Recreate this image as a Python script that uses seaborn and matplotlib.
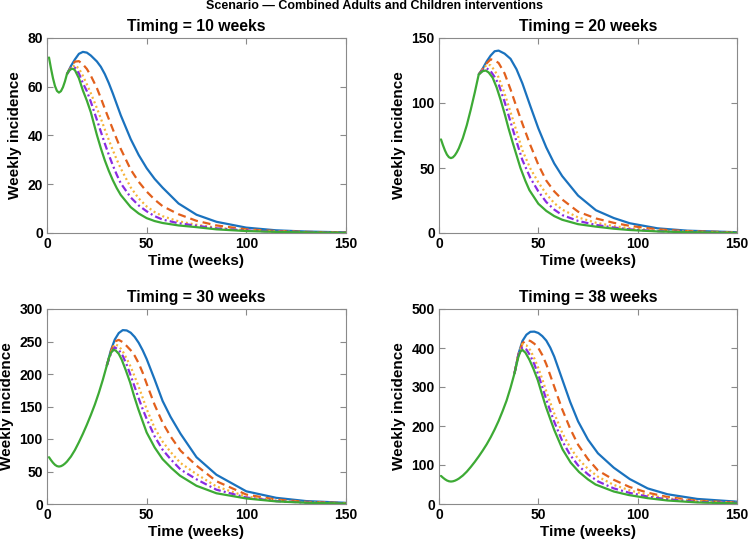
import numpy as np
import pandas as pd
import matplotlib
matplotlib.use("Agg")
import matplotlib.pyplot as plt
import seaborn as sns

# ---------------- data ----------------
# shared pre-intervention trajectory (weeks, weekly incidence)
base_weeks = [1, 2, 3, 4, 5, 6, 7, 8, 9, 10, 12, 14, 16, 18, 20, 22, 24, 26, 28, 30, 32, 34, 36, 38]
base_vals = [72, 67.5, 63.5, 60.3, 58.3, 57.6, 58.2, 59.8, 62.2, 65.2, 73, 83, 95, 108, 122,
             137, 153, 171, 191, 213, 238, 265, 298, 335]

timings = [10, 20, 30, 38]
ymaxes = [80, 150, 300, 500]
ysteps = [20, 50, 50, 100]

# ---- Timing = 10 weeks ----
t10 = [10, 12, 14, 16, 18, 20, 22, 25, 27, 29, 31, 33, 35, 37, 42, 46, 50, 54, 58, 66, 75, 85, 100, 115, 130, 150]
blue10 = [65.2, 68.5, 71.2, 73.5, 74.3, 74.0, 72.8, 70.4, 68.2, 65.2, 61.5, 57.3, 52.8, 48.3, 38.5, 32.0, 26.6, 22.2, 18.6, 12.1, 7.5, 4.6, 2.2, 1.1, 0.6, 0.25]
orange10 = [65.2, 68.0, 70.3, 70.5, 69.2, 67.3, 64.5, 59.5, 55.4, 51.0, 46.8, 42.6, 38.5, 34.5, 26.0, 21.0, 17.0, 13.7, 11.0, 7.7, 5.0, 3.1, 1.5, 0.8, 0.45, 0.2]
yellow10 = [65.2, 67.7, 68.9, 67.5, 64.5, 61.0, 57.3, 51.3, 47.0, 42.5, 38.2, 34.0, 30.1, 26.5, 18.7, 14.2, 10.9, 8.6, 6.9, 4.8, 3.4, 2.2, 1.1, 0.6, 0.35, 0.15]
purple10 = [65.2, 67.5, 67.8, 65.5, 61.5, 58.2, 53.8, 46.5, 41.6, 36.7, 32.1, 27.8, 23.9, 20.4, 14.6, 11.3, 8.9, 6.9, 5.5, 4.0, 3.0, 1.9, 1.0, 0.55, 0.3, 0.15]
tg10 = [11, 12, 13, 14, 16, 18, 20, 22, 25, 27, 29, 31, 33, 35, 37, 42, 46, 50, 54, 58, 66, 75, 85, 100, 115, 130, 150]
green10 = [66.6, 67.2, 67.4, 66.8, 63.5, 58.5, 54.3, 49.5, 40.3, 34.8, 29.8, 25.5, 21.7, 18.4, 15.6, 10.6, 8.0, 6.1, 4.9, 4.1, 3.1, 2.4, 1.5, 0.8, 0.45, 0.25, 0.12]

# ---- Timing = 20 weeks ----
t20 = [20, 22, 24, 26, 28, 30, 33, 36, 39, 42, 46, 50, 54, 58, 62, 70, 79, 88, 96, 110, 125, 150]
blue20 = [122, 126.5, 132, 136.5, 139.8, 140.3, 138, 134, 126, 115, 97.5, 80.5, 65.8, 53.5, 43.8, 28.8, 17.5, 11.5, 7.5, 3.6, 1.8, 0.6]
orange20 = [122, 126, 130.5, 133.6, 132.8, 130.8, 122.8, 110.5, 97, 84, 67.5, 52.5, 40.3, 32, 25.8, 16.4, 11.2, 7.8, 5.5, 2.8, 1.4, 0.5]
yellow20 = [122, 125.5, 129.5, 129, 125, 119.7, 107.4, 93, 78.5, 63.5, 49.5, 39, 30, 23, 18, 12, 7.9, 5.3, 3.7, 1.9, 1.0, 0.35]
purple20 = [122, 125, 126.7, 124.5, 120, 114.5, 101, 85.5, 70.5, 56, 42.3, 32, 23.8, 18, 13.8, 9.3, 6.2, 4.2, 2.8, 1.4, 0.7, 0.25]
tg20 = [22, 23.5, 25, 27, 29, 31, 33, 35, 37, 39, 41, 43.5, 45.5, 50, 54, 58, 62, 70, 79, 88, 96, 110, 125, 150]
green20 = [124.5, 125, 123.5, 119.5, 112, 102.5, 92, 80.5, 70, 60, 50, 40, 33, 22.5, 17, 13, 10.2, 6.8, 4.9, 3.3, 2.3, 1.2, 0.6, 0.2]

# ---- Timing = 30 weeks ----
t30 = [30, 32, 34, 36, 38, 40, 42, 44, 46, 48, 50, 54, 58, 62, 67, 75, 85, 100, 115, 130, 150]
blue30 = [213, 236, 253, 263, 267.5, 267, 263.5, 257, 248, 236.5, 223, 191.5, 158.5, 134, 108, 72, 45, 19.5, 9.5, 4.5, 1.8]
orange30 = [213, 234, 250, 252.5, 249, 243, 236.5, 228, 216.5, 202, 185, 152.5, 125, 104, 82, 59, 35, 14.5, 6.8, 3.3, 1.3]
yellow30 = [213, 232, 246, 243, 235, 223.5, 211, 196, 180.5, 163.5, 146, 117, 96, 80, 63, 46, 27, 11.5, 5.3, 2.6, 1.0]
purple30 = [213, 231, 241, 237, 228, 214, 197.5, 180, 162.5, 146, 131, 104, 83.5, 69, 53, 38, 22, 10, 4.5, 2.1, 0.9]
tg30 = [31, 32, 33.3, 34.5, 36, 37.5, 39.5, 41.7, 43.7, 45.8, 48, 50, 54, 58, 62.5, 66.7, 75, 85, 100, 115, 130, 150]
green30 = [224, 232, 237.4, 236, 231, 222, 206, 187, 166, 146, 127, 110, 87, 69, 55, 43.6, 28, 16.5, 8.5, 4, 1.9, 0.8]

# ---- Timing = 38 weeks ----
t38 = [38, 40, 42, 44, 46, 48, 50, 52, 54, 56, 58, 62, 66, 70, 75, 80, 88, 96, 105, 115, 130, 150]
blue38 = [335, 385, 418, 434, 441.5, 442, 438.5, 430.5, 419, 401, 378, 320, 262, 212, 165, 130, 93, 64, 40, 25, 13, 6]
orange38 = [335, 384, 412, 420.5, 418, 411, 400, 382, 358.5, 330, 301, 243, 193.5, 152, 115, 86, 62, 43.5, 29, 18, 8.5, 3.5]
yellow38 = [335, 384, 410, 407, 394, 373, 348.5, 320, 289, 260, 232.5, 183, 145, 116, 90, 70, 49, 35, 23, 14.5, 7, 2.8]
purple38 = [335, 383, 401, 396, 380, 358, 331, 300, 268, 239, 211, 162, 126, 99, 76, 58, 40, 28.5, 19, 12, 5.5, 2.2]
tg38 = [39, 40, 41, 42, 43.5, 45.5, 47.5, 49.7, 51.7, 53.8, 56, 58, 62.2, 66.3, 70.5, 75, 78.8, 88, 95.5, 105, 115, 130, 150]
green38 = [357, 378, 391, 395, 388, 370, 347, 318, 284, 249.5, 218, 190, 140, 106, 82, 63, 50, 32, 23, 15, 9, 4, 1.6]

panels = [
    (t10, blue10, orange10, yellow10, purple10, tg10, green10),
    (t20, blue20, orange20, yellow20, purple20, tg20, green20),
    (t30, blue30, orange30, yellow30, purple30, tg30, green30),
    (t38, blue38, orange38, yellow38, purple38, tg38, green38),
]

suptitle = "Scenario \u2014 Combined Adults and Children interventions"
xlabel = "Time (weeks)"
ylabel = "Weekly incidence"

# ---------------- style ----------------
sns.set_theme(style="white")
plt.rcParams["font.family"] = ["Liberation Sans", "DejaVu Sans"]
plt.rcParams["text.color"] = "black"
plt.rcParams["axes.labelcolor"] = "black"

c_blue = "#1A72BE"
c_orange = "#E2601C"
c_yellow = "#F6B43A"
c_purple = "#8A2BE2"
c_green = "#3DAA35"
lw = 1.6
spine_c = "#8a8a8a"

W, H = 750, 545
fig = plt.figure(figsize=(W / 100, H / 100), dpi=100)

boxes = [(47, 38, 346, 233), (439, 38, 737, 233), (47, 309, 346, 504), (439, 309, 737, 504)]

for i, (box, T, ymax, ystep, data) in enumerate(zip(boxes, timings, ymaxes, ysteps, panels)):
    x0, y0, x1, y1 = box
    ax = fig.add_axes([x0 / W, 1 - y1 / H, (x1 - x0) / W, (y1 - y0) / H])
    t, bl, orn, yel, pur, tg, gr = data

    bw = [w for w in base_weeks if w <= T]
    bv = [v for w, v in zip(base_weeks, base_vals) if w <= T]
    df_g = pd.DataFrame({"week": bw + tg, "inc": bv + gr})
    df = pd.DataFrame({"week": t, "blue": bl, "orange": orn, "yellow": yel, "purple": pur})

    sns.lineplot(data=df, x="week", y="blue", ax=ax, color=c_blue, lw=lw)
    sns.lineplot(data=df, x="week", y="orange", ax=ax, color=c_orange, lw=lw,
                 linestyle=(0, (3.6, 2.2)))
    sns.lineplot(data=df, x="week", y="yellow", ax=ax, color=c_yellow, lw=lw,
                 linestyle=(0, (0.9, 1.3)))
    sns.lineplot(data=df, x="week", y="purple", ax=ax, color=c_purple, lw=lw,
                 linestyle=(0, (3.2, 1.4, 0.9, 1.4)))
    sns.lineplot(data=df_g, x="week", y="inc", ax=ax, color=c_green, lw=lw)

    ax.set_xlim(0, 150)
    ax.set_ylim(0, ymax)
    ax.set_xticks([0, 50, 100, 150])
    ax.set_yticks(np.arange(0, ymax + 1, ystep))
    ax.tick_params(axis="both", direction="in", length=4, width=0.8, color=spine_c,
                   labelsize=10, pad=3, top=True, right=True, bottom=True, left=True,
                   labelcolor="black")
    for lab in ax.get_xticklabels() + ax.get_yticklabels():
        lab.set_fontweight("bold")
        lab.set_color("black")
    for s in ax.spines.values():
        s.set_color(spine_c)
        s.set_linewidth(0.8)
        s.set_visible(True)
    ax.set_xlabel(xlabel, fontsize=11, fontweight="bold", labelpad=2, color="black")
    ax.set_ylabel(ylabel, fontsize=11, fontweight="bold", labelpad=4, color="black")
    ax.set_title(f"Timing = {T} weeks", fontsize=11.3, fontweight="bold", pad=5, color="black")
    ax.grid(False)

fig.text(0.5, 1 - 6 / H, suptitle, ha="center", va="center", fontsize=9,
         fontweight="bold", color="black")

fig.savefig("out.png", dpi=100)
